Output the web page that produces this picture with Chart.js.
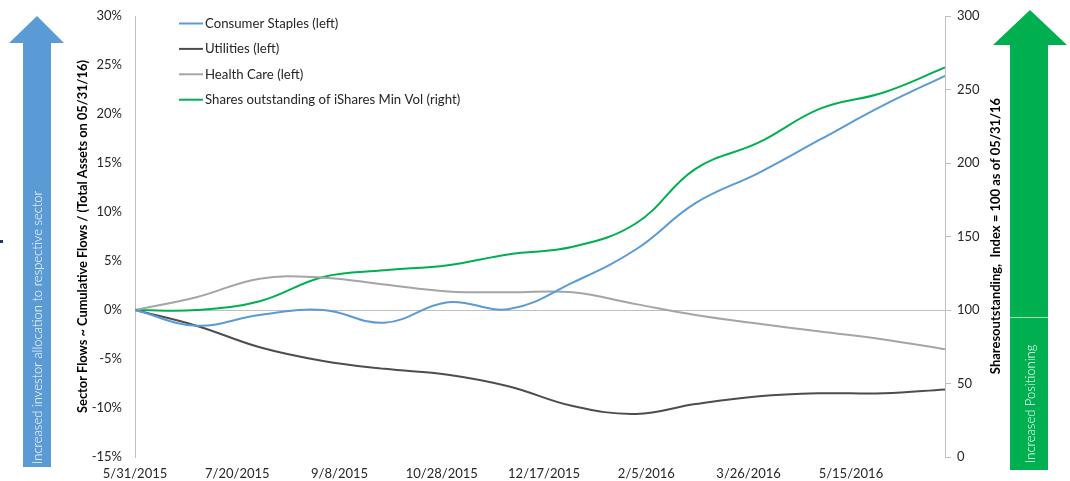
<!DOCTYPE html>
<html>
<head>
<meta charset="utf-8">
<script src="https://cdn.jsdelivr.net/npm/chart.js@4.4.1/dist/chart.umd.min.js"></script>
<style>
  body { margin: 0; background: #fff; }
  canvas { display: block; }
</style>
</head>
<body>
<canvas id="flowChart" width="1070" height="481"></canvas>
<script>
const dates = ['5/31/2015', '6/30/2015', '7/31/2015', '8/31/2015', '9/30/2015', '10/31/2015', '11/30/2015',
  '12/31/2015', '1/31/2016', '2/29/2016', '3/31/2016', '4/30/2016', '5/31/2016', '6/30/2016'];
const consumerStaples = [0, -1.6, -0.5, 0.0, -1.3, 0.8, 0.1, 2.8, 6.2, 10.9, 14.0, 17.4, 20.9, 23.9];
const utilities = [0, -1.6, -3.8, -5.2, -6.0, -6.6, -7.8, -9.8, -10.6, -9.6, -8.8, -8.5, -8.5, -8.1];
const healthCare = [0, 1.3, 3.2, 3.3, 2.6, 1.9, 1.8, 1.8, 0.6, -0.5, -1.4, -2.2, -3.0, -4.0];
const sharesOutstanding = [100, 100, 106, 122.5, 127, 130.5, 138, 143, 159, 196, 214, 237, 248, 265];

const xTickDates = ['5/31/2015', '7/20/2015', '9/8/2015', '10/28/2015', '12/17/2015', '2/5/2016', '3/26/2016', '5/15/2016'];

const FONT = 'Lato, "Noto Sans", sans-serif';

function dayOf(str) {
  const [m, d, y] = str.split('/').map(Number);
  return (Date.UTC(y, m - 1, d) - Date.UTC(2015, 4, 31)) / 86400000;
}

function toPoints(values) {
  return values.map((v, i) => ({ x: dayOf(dates[i]), y: v }));
}

// arrows, right axis title and legend drawn around the plot
const decorations = {
  id: 'decorations',
  beforeDraw(chart) {
    const ctx = chart.ctx;
    ctx.save();

    // blue arrow on the left
    ctx.fillStyle = '#5b9bd5';
    ctx.beginPath();
    ctx.moveTo(37, 16);
    ctx.lineTo(64, 43);
    ctx.lineTo(51, 43);
    ctx.lineTo(51, 467);
    ctx.lineTo(23, 467);
    ctx.lineTo(23, 43);
    ctx.lineTo(9, 43);
    ctx.closePath();
    ctx.fill();

    // green arrow on the right
    ctx.fillStyle = '#00b050';
    ctx.beginPath();
    ctx.moveTo(1030, 10);
    ctx.lineTo(1067, 45);
    ctx.lineTo(1048, 45);
    ctx.lineTo(1048, 470);
    ctx.lineTo(1010, 470);
    ctx.lineTo(1010, 45);
    ctx.lineTo(993, 45);
    ctx.closePath();
    ctx.fill();
    ctx.fillStyle = '#9ddcb4';
    ctx.fillRect(1010, 317, 38, 1);

    ctx.fillStyle = '#1f3864';
    ctx.fillRect(0, 240, 3, 3);

    ctx.fillStyle = '#ffffff';
    ctx.textBaseline = 'middle';
    ctx.textAlign = 'left';
    ctx.font = '300 13px ' + FONT;
    ctx.translate(38, 464);
    ctx.rotate(-Math.PI / 2);
    ctx.fillText('Increased investor allocation to respective sector', 0, 0);
    ctx.setTransform(1, 0, 0, 1, 0, 0);
    ctx.translate(1031, 463);
    ctx.rotate(-Math.PI / 2);
    ctx.fillText('Increased Positioning', 0, 0);
    ctx.setTransform(1, 0, 0, 1, 0, 0);

    // right axis title reads bottom-to-top
    ctx.fillStyle = '#000000';
    ctx.font = 'bold 13px ' + FONT;
    ctx.textAlign = 'center';
    ctx.translate(996, 236);
    ctx.rotate(-Math.PI / 2);
    ctx.fillText('Sharesoutstanding,  Index = 100 as of 05/31/16', 0, 0);
    ctx.restore();
  },
  afterDraw(chart) {
    const ctx = chart.ctx;
    ctx.save();
    ctx.font = '13.2px ' + FONT;
    ctx.textBaseline = 'middle';
    ctx.textAlign = 'left';
    chart.data.datasets.forEach((ds, i) => {
      const y = 23.5 + i * 25.4;
      ctx.strokeStyle = ds.borderColor;
      ctx.lineWidth = 2;
      ctx.beginPath();
      ctx.moveTo(179, y);
      ctx.lineTo(203, y);
      ctx.stroke();
      ctx.fillStyle = '#262626';
      ctx.fillText(ds.label, 205, y);
    });
    ctx.restore();
  }
};

new Chart(document.getElementById('flowChart'), {
  type: 'line',
  data: {
    datasets: [
      { label: 'Consumer Staples (left)', data: toPoints(consumerStaples), borderColor: '#5b9bd5', yAxisID: 'yLeft' },
      { label: 'Utilities (left)', data: toPoints(utilities), borderColor: '#4d4d4d', yAxisID: 'yLeft' },
      { label: 'Health Care (left)', data: toPoints(healthCare), borderColor: '#a5a5a5', yAxisID: 'yLeft' },
      { label: 'Shares outstanding of iShares Min Vol (right)', data: toPoints(sharesOutstanding), borderColor: '#00b050', yAxisID: 'yRight' }
    ]
  },
  options: {
    responsive: false,
    animation: false,
    layout: { padding: { left: 72, right: 0, top: 16, bottom: 0 } },
    elements: {
      line: { borderWidth: 2, tension: 0.4, fill: false },
      point: { radius: 0 }
    },
    plugins: {
      legend: { display: false },
      tooltip: { enabled: false }
    },
    scales: {
      x: {
        type: 'linear',
        min: 0,
        max: dayOf('6/30/2016'),
        afterBuildTicks: scale => {
          scale.ticks = xTickDates.map(d => ({ value: dayOf(d) }));
        },
        afterFit: scale => { scale.height = 24; },
        grid: { display: false, drawTicks: false },
        border: { display: false },
        ticks: {
          autoSkip: false,
          maxRotation: 0,
          padding: 9,
          color: '#262626',
          font: { family: FONT, size: 13 },
          callback: (value, index) => xTickDates[index]
        }
      },
      yLeft: {
        position: 'left',
        min: -15,
        max: 30,
        afterFit: scale => { scale.width = 63; },
        border: { display: true, color: '#bfbfbf', width: 1 },
        grid: {
          drawTicks: true,
          tickLength: 9,
          tickColor: 'rgba(0,0,0,0)',
          color: ctx => (ctx.tick && ctx.tick.value === 0 ? '#bfbfbf' : 'rgba(0,0,0,0)')
        },
        ticks: {
          stepSize: 5,
          padding: 4,
          color: '#262626',
          font: { family: FONT, size: 13 },
          callback: v => v + '%'
        },
        title: {
          display: true,
          text: 'Sector Flows ~ Cumulative Flows / (Total Assets on 05/31/16)',
          color: '#000000',
          padding: { top: 3, bottom: 0 },
          font: { family: FONT, size: 12.8, weight: 'bold' }
        }
      },
      yRight: {
        position: 'right',
        min: 0,
        max: 300,
        afterFit: scale => { scale.width = 125; },
        border: { display: true, color: '#bfbfbf', width: 1 },
        grid: {
          drawOnChartArea: false,
          drawTicks: true,
          tickLength: 6,
          color: '#bfbfbf'
        },
        ticks: {
          stepSize: 50,
          padding: 6,
          color: '#262626',
          font: { family: FONT, size: 13 }
        }
      }
    }
  },
  plugins: [decorations]
});
</script>
</body>
</html>
